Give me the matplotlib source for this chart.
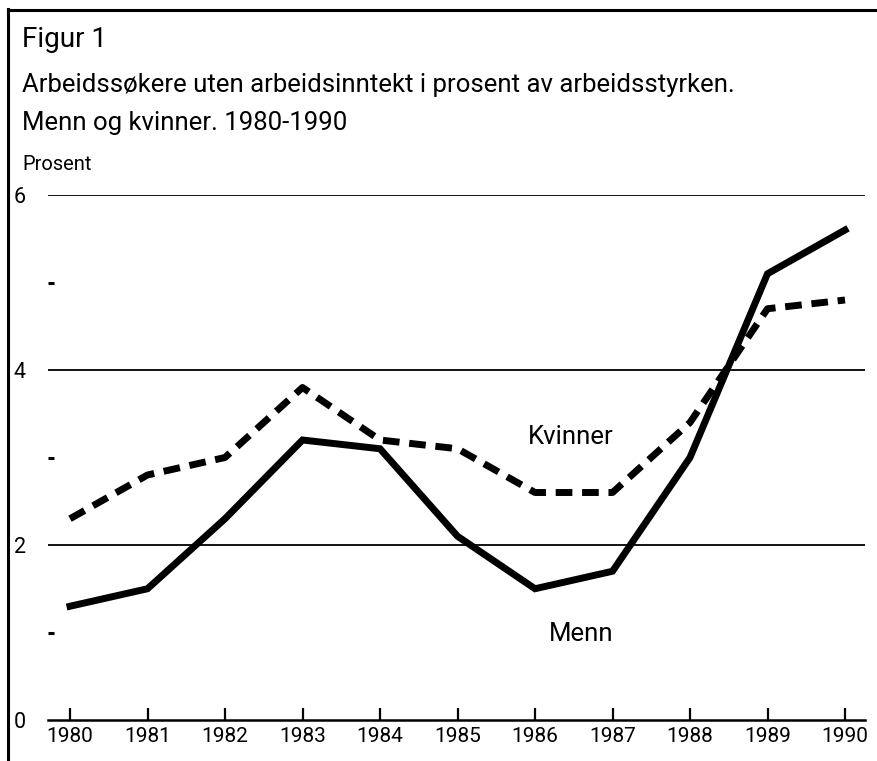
import matplotlib
matplotlib.use("Agg")
import matplotlib.pyplot as plt
from matplotlib.lines import Line2D

plt.rcParams['font.family'] = ['Roboto', 'DejaVu Sans']

years = [1980, 1981, 1982, 1983, 1984, 1985, 1986, 1987, 1988, 1989, 1990]
menn = [1.3, 1.5, 2.3, 3.2, 3.1, 2.1, 1.5, 1.7, 3.0, 5.1, 5.6]
kvinner = [2.3, 2.8, 3.0, 3.8, 3.2, 3.1, 2.6, 2.6, 3.4, 4.7, 4.8]
major_yticks = [0, 2, 4, 6]
minor_yticks = [1, 3, 5]

title_lines = ["Figur 1",
               "Arbeidssøkere uten arbeidsinntekt i prosent av arbeidsstyrken.",
               "Menn og kvinner. 1980-1990"]

W, H = 878, 761
fig = plt.figure(figsize=(W / 100, H / 100), dpi=100)

def fx(px):
    return px / W

def fy(py):
    return 1 - py / H

ax = fig.add_axes([fx(48), fy(720), fx(865) - fx(48), fy(195) - fy(720)])
ax.set_xlim(1980 - 22 / 77.5, 1990 + 20 / 77.5)
ax.set_ylim(0, 6)

for v in major_yticks[1:]:
    ax.axhline(v, color='black', lw=1.3, zorder=1)

ax.plot(years, menn, color='black', lw=5.0, solid_joinstyle='miter', zorder=3)
ax.plot(years, kvinner, color='black', lw=5.0, linestyle=(0, (2.4, 1.4)),
        dash_capstyle='butt', zorder=3)

for s in ['top', 'right', 'left']:
    ax.spines[s].set_visible(False)
ax.spines['bottom'].set_linewidth(1.8)

ax.set_xticks(years)
ax.set_xticklabels([str(y) for y in years], fontsize=15)
ax.tick_params(axis='x', direction='in', length=9, width=1.6, pad=5)

ax.set_yticks(major_yticks)
ax.set_yticklabels([str(v) for v in major_yticks], fontsize=15.5)
ax.set_yticks(minor_yticks, minor=True)
ax.tick_params(axis='y', which='major', length=0, pad=16)
ax.tick_params(axis='y', which='minor', direction='in', length=4.5, width=2.2)

ax.text(1986.46, 3.16, "Kvinner", fontsize=18.5, ha='center', va='baseline')
ax.text(1986.6, 0.90, "Menn", fontsize=18.5, ha='center', va='baseline')

fig.text(fx(22), fy(47), title_lines[0], fontsize=20, ha='left', va='baseline')
fig.text(fx(22), fy(92), title_lines[1], fontsize=18.5, ha='left', va='baseline')
fig.text(fx(22), fy(130), title_lines[2], fontsize=18.5, ha='left', va='baseline')
fig.text(fx(22), fy(170), "Prosent", fontsize=14.5, ha='left', va='baseline')

fig.add_artist(Line2D([fx(8), fx(8)], [fy(9), 0], color='black', lw=2.2))
fig.add_artist(Line2D([fx(8), 1], [fy(10), fy(10)], color='black', lw=2.2))

fig.savefig("out.png", dpi=100)
